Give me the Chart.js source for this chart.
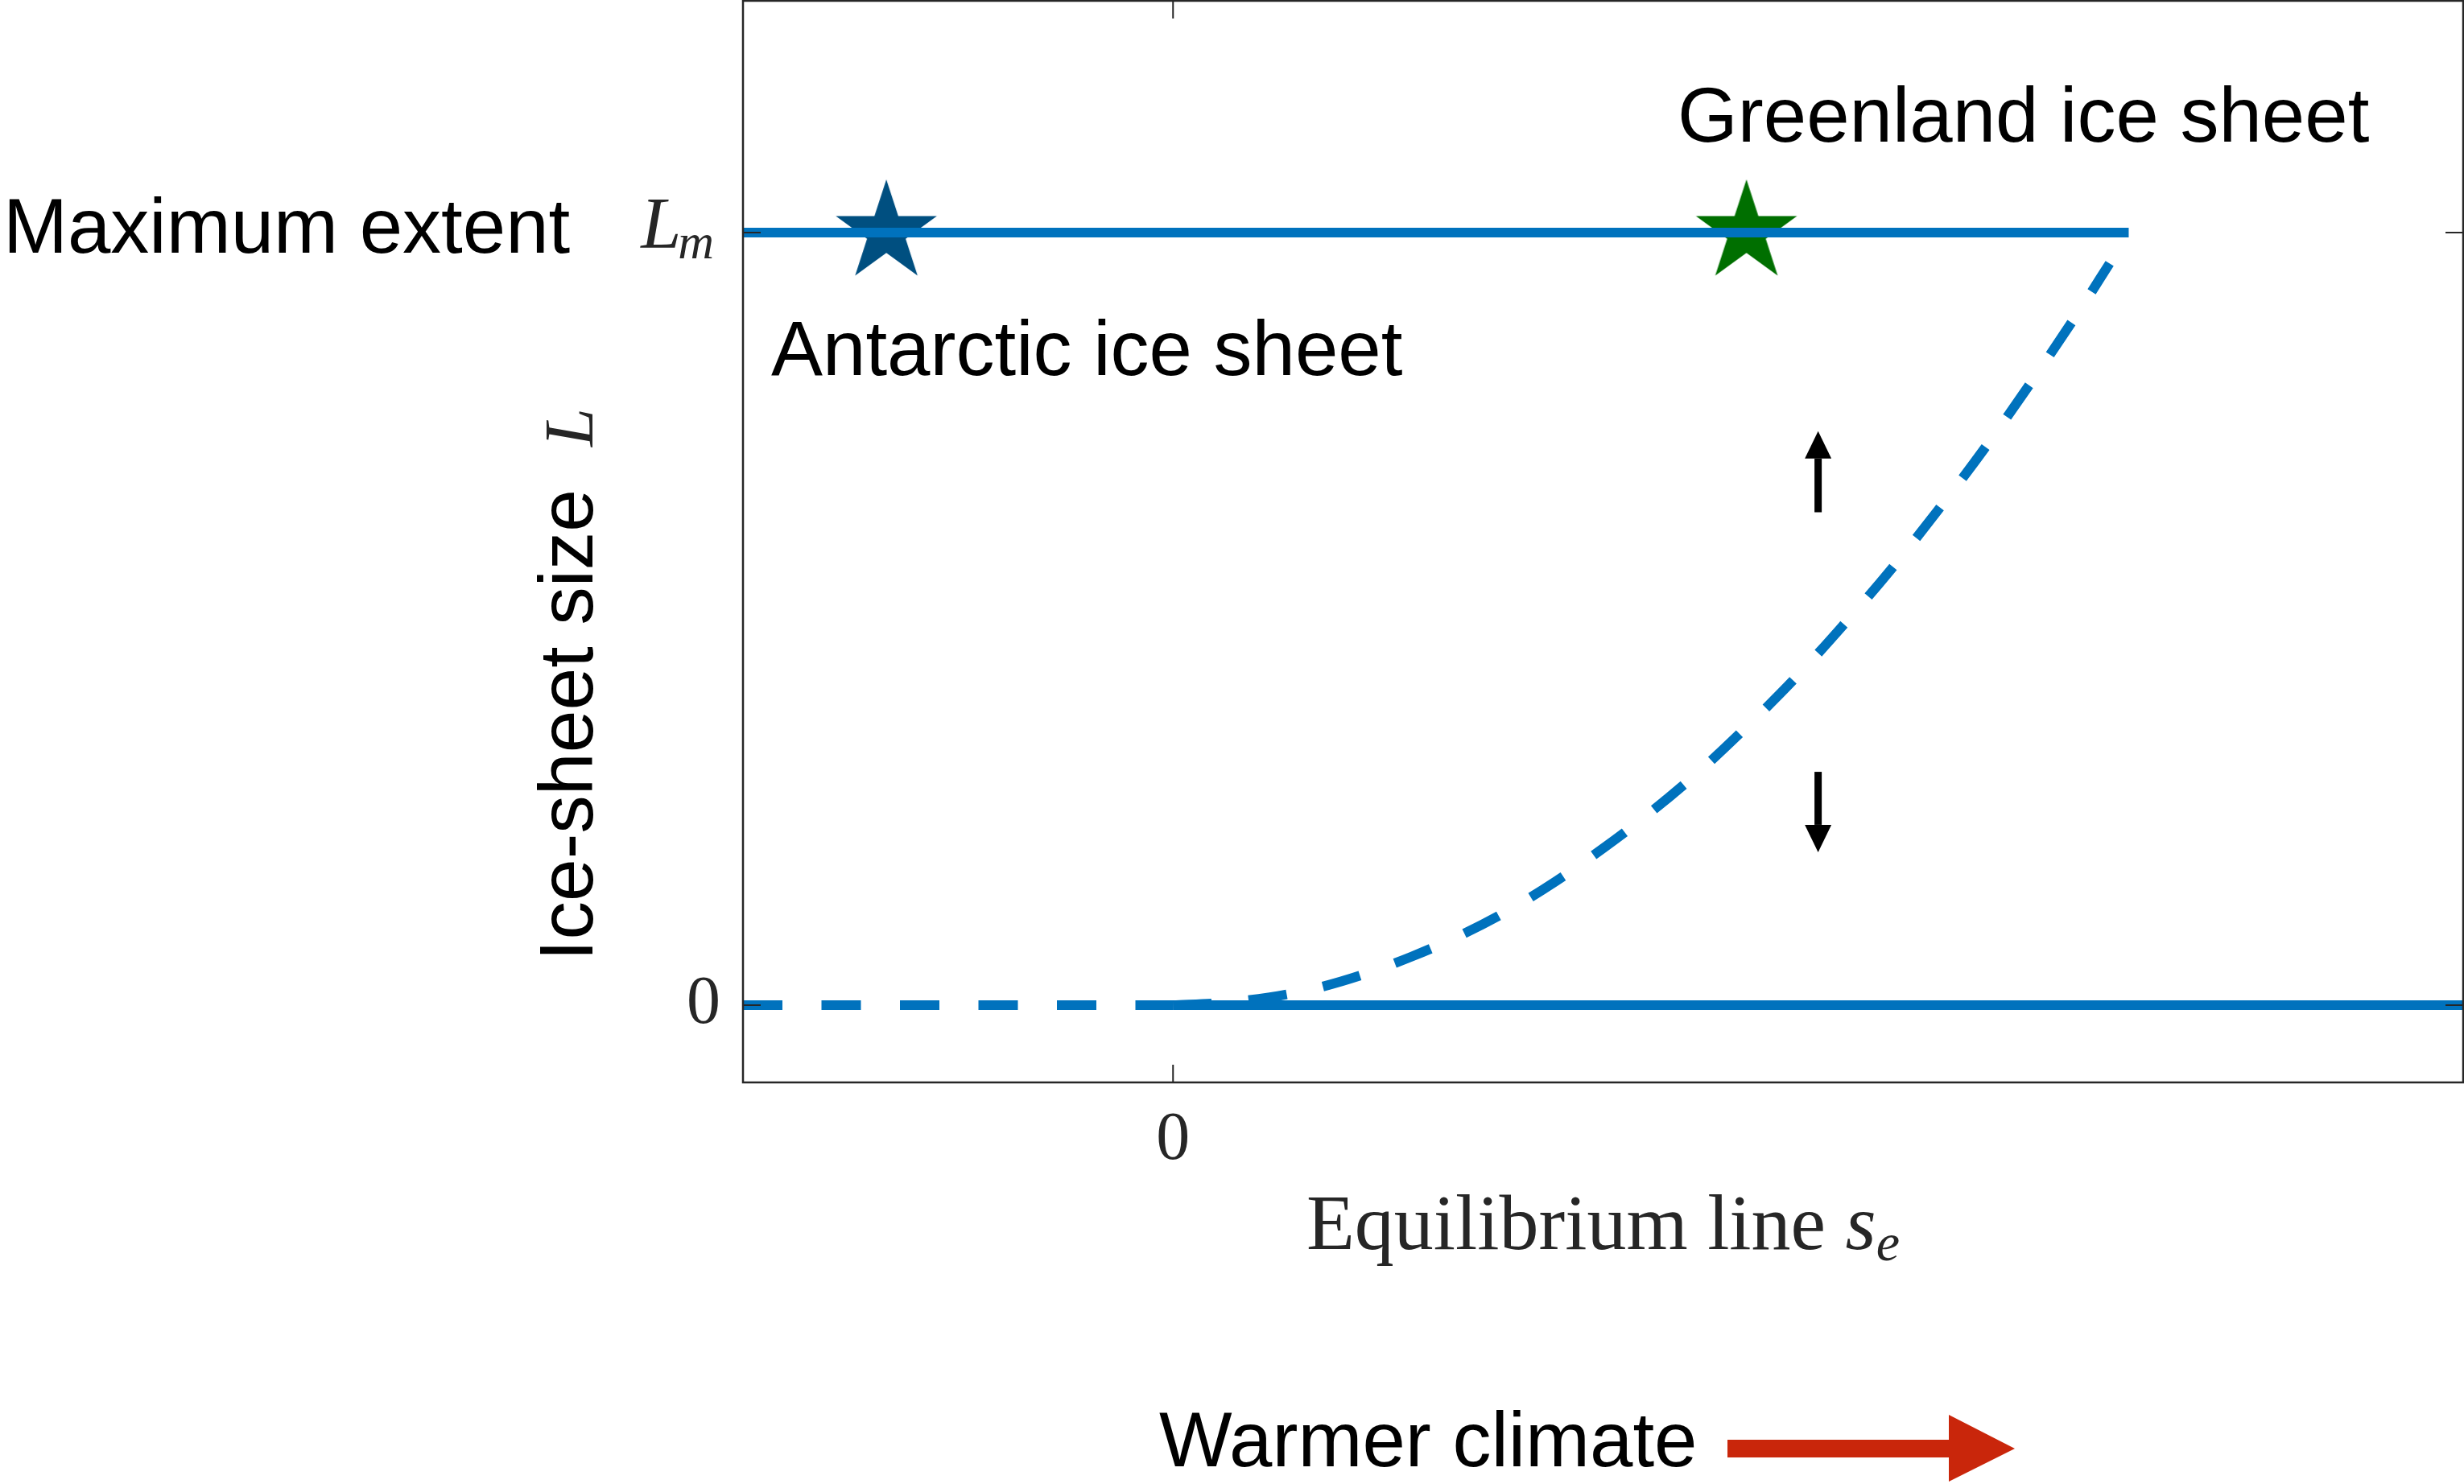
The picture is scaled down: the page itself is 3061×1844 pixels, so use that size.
<!DOCTYPE html>
<html>
<head>
<meta charset="utf-8">
<script src="https://cdn.jsdelivr.net/npm/chart.js@4"></script>
<style>
  html, body { margin: 0; padding: 0; background: #fff; }
  canvas { display: block; }
</style>
</head>
<body>
<canvas id="graficoGelo" width="3061" height="1844"></canvas>
<script>
// Eixos
const xRange = [-0.45, 1.35];
const yRange = [-0.1, 1.3];
const xTickValues = [0];
const yTickValues = [0, 1];

// Ramos estáveis (linhas cheias)
const maxLineX = [-0.45, 1.0];
const maxLineY = [1, 1];
const zeroLineX = [0, 1.35];
const zeroLineY = [0, 0];

// Ramo instável (tracejado)
const dashedZeroX = [-0.45, 0];
const dashedZeroY = [0, 0];
const curveX = [0, 0.05, 0.1, 0.15, 0.2, 0.25, 0.3, 0.35, 0.4, 0.45, 0.5, 0.55, 0.6, 0.65, 0.7, 0.75, 0.8, 0.85, 0.9, 0.95, 0.98];
const curveY = [0, 0.003, 0.01, 0.022, 0.04, 0.063, 0.09, 0.122, 0.16, 0.203, 0.25, 0.302, 0.36, 0.422, 0.49, 0.562, 0.64, 0.722, 0.81, 0.902, 0.96];

// Estrelas
const starNames = ['Antarctic ice sheet', 'Greenland ice sheet'];
const starX = [-0.3, 0.6];
const starY = [1, 1];
const starColors = ['#004F80', '#006F00'];

// Setas de estabilidade
const arrowX = 0.675;
const arrowUp = [0.638, 0.743];
const arrowDown = [0.302, 0.198];

const blue = '#0072BD';
const axisColor = '#262626';
const sans = '"Liberation Sans", Arial, sans-serif';
const serif = '"Liberation Serif", "Times New Roman", serif';

function toPoints(xs, ys) {
    return xs.map((v, i) => ({ x: v, y: ys[i] }));
}

// Desenha um pentagrama para usar como pointStyle
function makeStar(color, R) {
    const c = document.createElement('canvas');
    c.width = 2 * R;
    c.height = 2 * R;
    const g = c.getContext('2d');
    g.fillStyle = color;
    g.beginPath();
    for (let i = 0; i < 10; i++) {
        const r = i % 2 ? R * 0.382 : R;
        const a = -Math.PI / 2 + i * Math.PI / 5;
        const px = R + r * Math.cos(a);
        const py = R + r * Math.sin(a);
        if (i === 0) g.moveTo(px, py); else g.lineTo(px, py);
    }
    g.closePath();
    g.fill();
    return c;
}

function line(ctx, x1, y1, x2, y2) {
    ctx.beginPath();
    ctx.moveTo(x1, y1);
    ctx.lineTo(x2, y2);
    ctx.stroke();
}

function blackArrow(ctx, px, yFrom, yTo) {
    const dir = yTo < yFrom ? -1 : 1;
    const head = 34;
    ctx.fillStyle = '#000';
    ctx.fillRect(px - 4.5, Math.min(yFrom, yTo - dir * head), 9, Math.abs(yTo - dir * head - yFrom));
    ctx.beginPath();
    ctx.moveTo(px, yTo);
    ctx.lineTo(px - 16.5, yTo - dir * head);
    ctx.lineTo(px + 16.5, yTo - dir * head);
    ctx.closePath();
    ctx.fill();
}

// Plugin com caixa, ticks, textos e setas
const annotations = {
    id: 'annotations',
    afterDraw(chart) {
        const { ctx, chartArea: a, scales: { x, y } } = chart;
        ctx.save();

        // caixa
        ctx.strokeStyle = axisColor;
        ctx.lineWidth = 2.5;
        ctx.strokeRect(a.left, a.top, a.right - a.left, a.bottom - a.top);

        // ticks para dentro
        ctx.lineWidth = 2;
        xTickValues.forEach(v => {
            const px = x.getPixelForValue(v);
            line(ctx, px, a.bottom, px, a.bottom - 22);
            line(ctx, px, a.top, px, a.top + 22);
        });
        yTickValues.forEach(v => {
            const py = y.getPixelForValue(v);
            line(ctx, a.left, py, a.left + 22, py);
            line(ctx, a.right, py, a.right - 22, py);
        });

        // rótulos dos ticks
        ctx.fillStyle = axisColor;
        ctx.textBaseline = 'alphabetic';
        ctx.font = '84px ' + serif;
        ctx.textAlign = 'right';
        ctx.fillText('0', a.left - 28, y.getPixelForValue(0) + 22);
        ctx.textAlign = 'center';
        ctx.fillText('0', x.getPixelForValue(0), a.bottom + 95);

        // L_m
        const pyLm = y.getPixelForValue(1);
        ctx.textAlign = 'left';
        ctx.font = 'italic 90px ' + serif;
        const wL = ctx.measureText('L').width;
        ctx.font = 'italic 62px ' + serif;
        const wm = ctx.measureText('m').width;
        const lx = a.left - 32 - wL - wm;
        ctx.font = 'italic 90px ' + serif;
        ctx.fillText('L', lx, pyLm + 19);
        ctx.font = 'italic 62px ' + serif;
        ctx.fillText('m', lx + wL - 4, pyLm + 32);

        // título do eixo x
        ctx.font = '98px ' + serif;
        const base = 'Equilibrium line ';
        const wBase = ctx.measureText(base).width;
        ctx.font = 'italic 98px ' + serif;
        const wS = ctx.measureText('s').width;
        ctx.font = 'italic 66px ' + serif;
        const wE = ctx.measureText('e').width;
        const cx = (a.left + a.right) / 2;
        let tx = cx - (wBase + wS + wE) / 2;
        const tb = a.bottom + 207;
        ctx.font = '98px ' + serif;
        ctx.fillText(base, tx, tb);
        ctx.font = 'italic 98px ' + serif;
        ctx.fillText('s', tx + wBase, tb);
        ctx.font = 'italic 66px ' + serif;
        ctx.fillText('e', tx + wBase + wS, tb + 14);

        // título do eixo y (rotacionado)
        ctx.save();
        ctx.translate(a.left - 187, a.bottom - 151);
        ctx.rotate(-Math.PI / 2);
        ctx.fillStyle = '#000';
        ctx.font = '95px ' + sans;
        ctx.fillText('Ice-sheet size', 0, 0);
        const wIce = ctx.measureText('Ice-sheet size  ').width;
        ctx.fillStyle = axisColor;
        ctx.font = 'italic 86px ' + serif;
        ctx.fillText('L', wIce, 0);
        ctx.restore();

        // textos sem serifa
        ctx.fillStyle = '#000';
        ctx.font = '96px ' + sans;
        ctx.textAlign = 'left';
        ctx.fillText('Maximum extent', 4, pyLm + 25);
        ctx.fillText(starNames[0], x.getPixelForValue(-0.4205), y.getPixelForValue(0.816));
        ctx.fillText(starNames[1], x.getPixelForValue(0.528), y.getPixelForValue(1.118));

        // setas pretas
        const ax = x.getPixelForValue(arrowX);
        blackArrow(ctx, ax, y.getPixelForValue(arrowUp[0]), y.getPixelForValue(arrowUp[1]));
        blackArrow(ctx, ax, y.getPixelForValue(arrowDown[0]), y.getPixelForValue(arrowDown[1]));

        // "Warmer climate" com seta vermelha
        ctx.fillStyle = '#000';
        ctx.fillText('Warmer climate', 1440, 1822);
        ctx.fillStyle = '#C9260B';
        ctx.fillRect(2146, 1789, 276, 22);
        ctx.beginPath();
        ctx.moveTo(2421, 1758);
        ctx.lineTo(2503, 1800);
        ctx.lineTo(2421, 1841);
        ctx.closePath();
        ctx.fill();

        ctx.restore();
    }
};

const chartConfig = {
    type: 'scatter',
    data: {
        datasets: [
            {
                label: 'Maximum extent',
                data: toPoints(maxLineX, maxLineY),
                showLine: true,
                borderColor: blue,
                borderWidth: 12,
                pointRadius: 0
            },
            {
                label: 'No ice',
                data: toPoints(zeroLineX, zeroLineY),
                showLine: true,
                borderColor: blue,
                borderWidth: 12,
                pointRadius: 0
            },
            {
                label: 'Unstable (no ice)',
                data: toPoints(dashedZeroX, dashedZeroY),
                showLine: true,
                borderColor: blue,
                borderWidth: 12,
                borderDash: [49, 48.5],
                pointRadius: 0
            },
            {
                label: 'Unstable',
                data: toPoints(curveX, curveY),
                showLine: true,
                borderColor: blue,
                borderWidth: 12,
                borderDash: [48, 46],
                cubicInterpolationMode: 'monotone',
                pointRadius: 0
            },
            {
                label: 'Ice sheets',
                data: toPoints(starX, starY),
                pointStyle: starColors.map(c => makeStar(c, 66)),
                pointRadius: 10,
                clip: false
            }
        ]
    },
    options: {
        responsive: false,
        devicePixelRatio: 1,
        animation: false,
        layout: {
            autoPadding: false,
            padding: { left: 923, right: 1, top: 1, bottom: 499 }
        },
        plugins: {
            legend: { display: false },
            tooltip: { enabled: false }
        },
        scales: {
            x: { type: 'linear', min: xRange[0], max: xRange[1], display: false },
            y: { type: 'linear', min: yRange[0], max: yRange[1], display: false }
        }
    },
    plugins: [annotations]
};

const ctx = document.getElementById('graficoGelo').getContext('2d');
const myChart = new Chart(ctx, chartConfig);
</script>
</body>
</html>
